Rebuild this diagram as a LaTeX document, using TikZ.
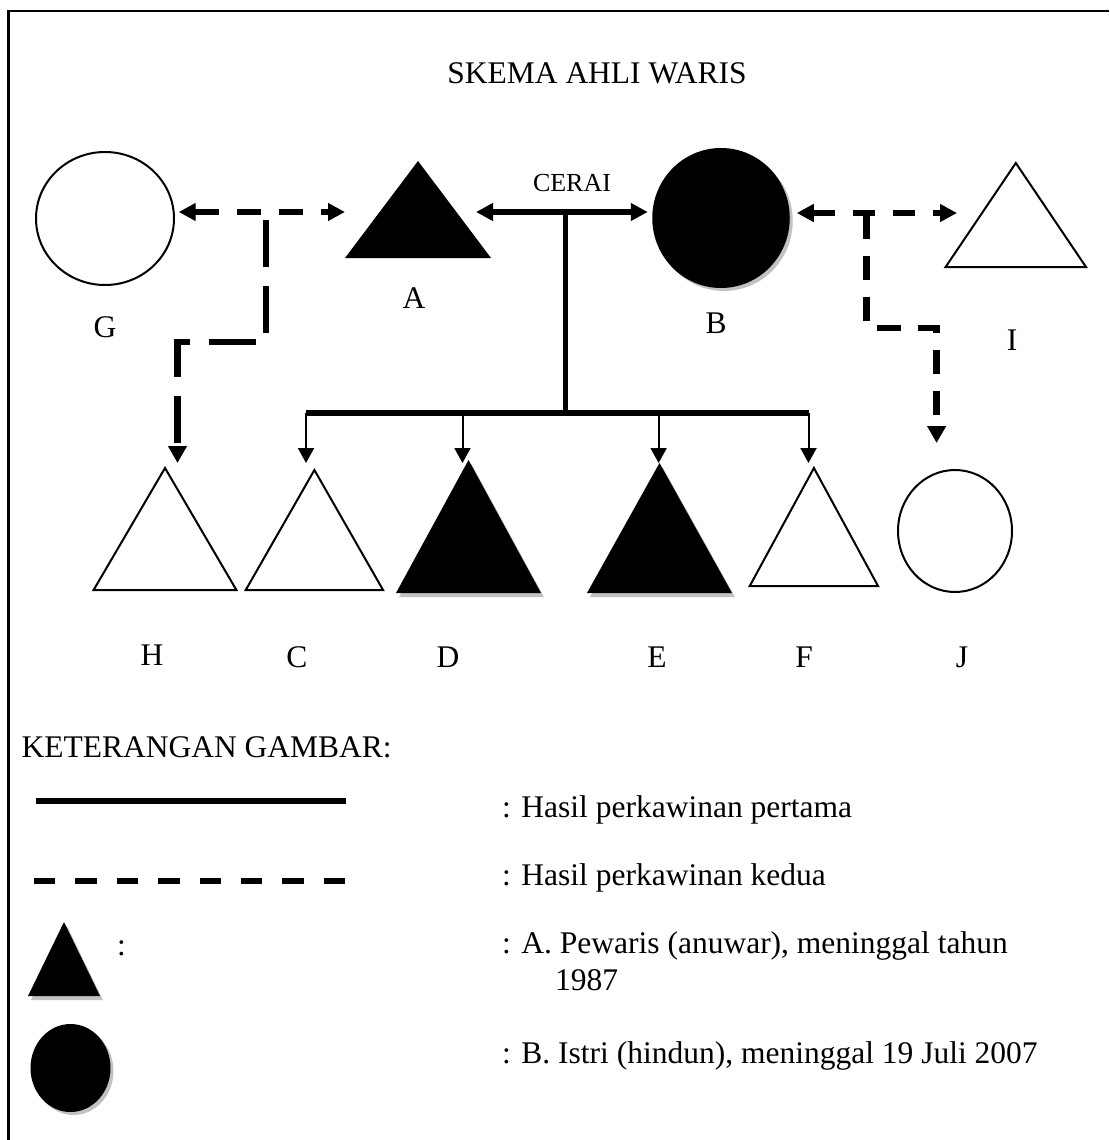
\documentclass[tikz,border=0pt]{standalone}
\usepackage{fontspec}
\setmainfont{Liberation Serif}
\usetikzlibrary{arrows.meta,shapes.geometric,shadows,calc}
\begin{document}
\begin{tikzpicture}[x=1pt,y=-1pt,line join=miter,
  big/.style={inner sep=0pt,font=\fontsize{31.5pt}{36pt}\selectfont},
  lbl/.style={big,anchor=base},
  leg/.style={big,anchor=base west},
  box/.style={rectangle,inner sep=0pt,outer sep=0pt},
  hollow/.style={draw=black,line width=2pt,fill=white},
  shade/.style={fill=black!24},
  ring/.style={ellipse,inner sep=0pt,outer sep=0pt,draw=black,line width=2pt},
  disc/.style={ellipse,inner sep=0pt,outer sep=0pt,fill=black,
    drop shadow={shadow xshift=3pt,shadow yshift=-3pt,fill=black!24,opacity=1}},
  >={Triangle[length=17pt,width=17pt]},
  dga/.style={line width=6.5pt,dash pattern=on 24pt off 18pt},
  dbi/.style={line width=6.5pt,dash pattern=on 22pt off 18pt},
  dleft/.style={line width=6.5pt,dash pattern=on 47pt off 19pt,dash phase=58pt},
  dright/.style={line width=6.5pt,dash pattern=on 24pt off 17pt,dash phase=39pt},
  droptip/.style={line width=2pt,-{Triangle[length=15pt,width=16pt]}},
  elbowtip/.style={-{Triangle[length=17pt,width=18pt]}}
]
\useasboundingbox (0,0) rectangle (1109,1140);

% frame
\draw[line width=2.5pt] (8.7,1140) -- (8.7,11.2) -- (1109,11.2);

% title
\node[lbl] (title) at (597,83.5) {SKEMA AHLI WARIS};

% persons
\node[ring,minimum width=138pt,minimum height=133pt] (G) at (105,218.5) {};
\node[box,minimum width=146pt,minimum height=97pt] (A) at (418,209.5) {};
\node[disc,minimum width=137.5pt,minimum height=140pt] (B) at (721,218) {};
\node[box,minimum width=140.4pt,minimum height=104pt] (I) at (1015.8,215) {};
\node[box,minimum width=142.8pt,minimum height=122pt] (H) at (165,529) {};
\node[box,minimum width=137.3pt,minimum height=120pt] (C) at (314.4,530) {};
\node[box,minimum width=145pt,minimum height=133pt] (D) at (468.5,526.5) {};
\node[box,minimum width=145pt,minimum height=130pt] (E) at (659.5,528) {};
\node[box,minimum width=128.3pt,minimum height=118pt] (F) at (813.9,527) {};
\node[ring,minimum width=114pt,minimum height=122pt] (J) at (955,531) {};
\node[box,minimum width=72pt,minimum height=74pt] (LT) at (64,959) {};
\node[disc,minimum width=80pt,minimum height=88pt] (LC) at (70.5,1068) {};

% triangles
\foreach \n in {I,H,C,F}
  \draw[hollow] (\n.south west) -- (\n.north) -- (\n.south east) -- cycle;
\foreach \n in {D,E,LT}
  \fill[shade] ([shift={(3pt,-4pt)}]\n.south west) -- ([shift={(3pt,-4pt)}]\n.north) -- ([shift={(3pt,-4pt)}]\n.south east) -- cycle;
\foreach \n in {A,D,E,LT}
  \fill (\n.south west) -- (\n.north) -- (\n.south east) -- cycle;

% labels
\node[lbl] (lG) at (105,337.5) {G};
\node[lbl] (lA) at (414,308.5) {A};
\node[lbl] (lB) at (716,333.5) {B};
\node[lbl] (lI) at (1012,350) {I};
\node[lbl] (lH) at (152,665.5) {H};
\node[lbl] (lC) at (297,667.5) {C};
\node[lbl] (lD) at (448,667.5) {D};
\node[lbl] (lE) at (657,667.5) {E};
\node[lbl] (lF) at (804,667.5) {F};
\node[lbl] (lJ) at (962,667.5) {J};
\node[anchor=base,inner sep=0pt,font=\fontsize{26pt}{30pt}\selectfont] (cerai) at (572,191.6) {CERAI};

% junction points
\coordinate (GAm) at (266,212);
\coordinate (ABm) at (565,212);
\coordinate (BIm) at (866.5,213);
\coordinate (Lk1) at (266,342);
\coordinate (Lk2) at (177.5,342);
\coordinate (Htip) at (177.5,463);
\coordinate (Rk1) at (866.5,328);
\coordinate (Rk2) at (936.6,328);
\coordinate (Jtip) at (936.6,443);
\coordinate (bar) at (565,413);
\coordinate (Ct) at (306,413);
\coordinate (Dt) at (462.5,413);
\coordinate (Et) at (658.6,413);
\coordinate (Ft) at (808.5,413);
\coordinate (kid) at (0,463);

% connectors
\draw[dga,<->] ($(GAm -| G.east)+(4.7,0)$) -- (GAm -| A.west);
\draw[line width=6pt,<->] ($(ABm -| A.east)+(-15,0)$) -- ($(ABm -| B.west)+(-4.5,0)$);
\draw[dbi,<->] ($(BIm -| B.east)+(7,0)$) -- ($(BIm -| I.west)+(11.4,0)$);
\draw[line width=5pt] (ABm) -- (bar);
\draw[line width=5.5pt] (Ct) -- (Ft);
\foreach \t in {Ct,Dt,Et,Ft}
  \draw[droptip] (\t) -- (\t |- kid);
\draw[dleft,elbowtip] (GAm) -- (Lk1) -- (Lk2) -- (Htip);
\draw[dright,elbowtip] (BIm) -- (Rk1) -- (Rk2) -- (Jtip);

% legend
\node[leg] (ket) at (21.4,757.5) {KETERANGAN GAMBAR:};
\coordinate (s1) at (35.7,801);
\coordinate (s2) at (345.7,801);
\draw[line width=5.5pt] (s1) -- (s2);
\coordinate (d1) at (34,881);
\coordinate (d2) at (345.7,881);
\draw[line width=6.5pt,dash pattern=on 21.4pt off 20pt] (d1) -- (d2);
\node[leg] (colon) at (117,955) {:};
\node[leg] (t1) at (502,817) {: Hasil perkawinan pertama};
\node[leg] (t2) at (502,885.5) {: Hasil perkawinan kedua};
\node[leg] (t3) at (502,953.5) {: A. Pewaris (anuwar), meninggal tahun};
\node[leg] (t4) at (555,990) {1987};
\node[leg] (t5) at (502,1063) {: B. Istri (hindun), meninggal 19 Juli 2007};
\end{tikzpicture}
\end{document}
